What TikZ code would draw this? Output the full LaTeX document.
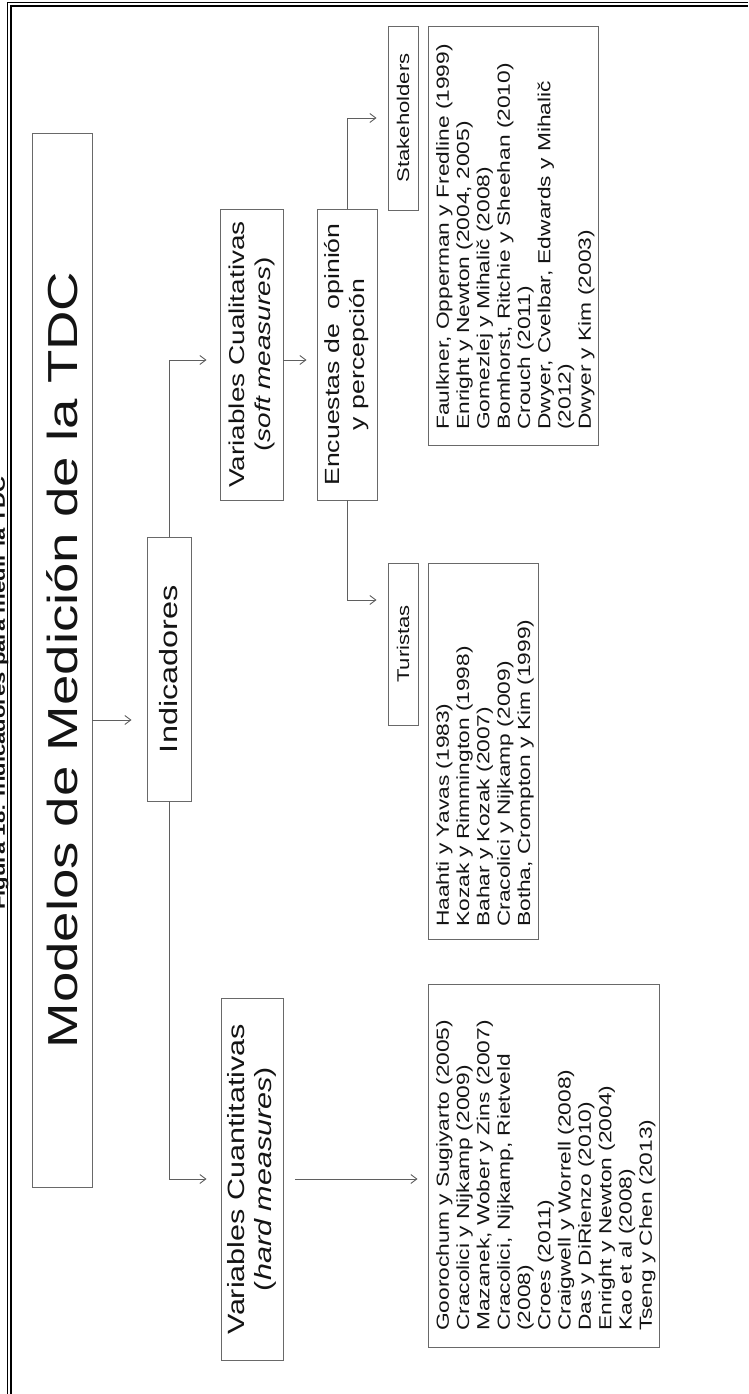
\documentclass[tikz,border=0pt]{standalone}
\usepackage{fontspec}
\setmainfont{Liberation Sans}[FakeStretch=1.3]
\usetikzlibrary{arrows.meta,calc}
\definecolor{boxgray}{RGB}{105,105,105}
\definecolor{linegray}{RGB}{95,95,95}
\definecolor{inkblack}{RGB}{20,20,20}

\begin{document}
\begin{tikzpicture}[x=1pt,y=-1pt,
  box/.style={draw=boxgray, line width=0.9pt, rotate=90, inner sep=0pt,
              align=center, text=inkblack},
  citebox/.style={draw=boxgray, line width=0.9pt, rotate=90, inner sep=0pt},
  citetext/.style={rotate=90, inner sep=0pt, align=left, anchor=north west,
                   text=inkblack, font=\fontsize{17.5}{20.3}\selectfont},
  arr/.style={draw=linegray, line width=0.9pt,
              -{Straight Barb[length=6pt,width=9pt]}},
  frame/.style={draw=black, line width=1.1pt},
]
\path[use as bounding box] (0,0) rectangle (748,1394);

% double frame along the top and left edges
\draw[frame] (7.5,1394) -- (7.5,2.5) -- (748,2.5);
\draw[frame] (11,1394) -- (11,6) -- (748,6);

% figure caption, running off the left edge
\begin{scope}
  \clip (0,0) rectangle (748,1394);
  \node[rotate=90, anchor=base west, inner sep=0pt, text=inkblack,
        font=\bfseries\fontsize{17}{20}\selectfont] (caption) at (5,910)
        {Figura 18: Indicadores para medir la TDC};
\end{scope}

% main boxes
\node[box, minimum width=1054pt, minimum height=60pt,
      font=\fontsize{42}{48}\selectfont] (title) at (62,660)
      {Modelos de Medición de la TDC};
\node[box, minimum width=264pt, minimum height=44pt,
      font=\fontsize{25}{29}\selectfont] (ind) at (169,669) {Indicadores};
\node[box, minimum width=291pt, minimum height=63pt,
      font=\fontsize{21.5}{26}\selectfont] (cual) at (251.5,354.5)
      {Variables Cualitativas\\(\textit{soft measures})};
\node[box, minimum width=362pt, minimum height=62pt,
      font=\fontsize{23.5}{27}\selectfont] (cuan) at (252,1179)
      {Variables Cuantitativas\\(\textit{hard measures})};
\node[box, minimum width=291pt, minimum height=60pt,
      font=\fontsize{20.5}{25}\selectfont] (enc) at (347,354.5)
      {Encuestas de~~opinión\\y percepción};
\node[box, minimum width=184pt, minimum height=30pt,
      font=\fontsize{17}{20}\selectfont] (stake) at (403,118) {Stakeholders};
\node[box, minimum width=162pt, minimum height=30pt,
      font=\fontsize{17}{20}\selectfont] (tur) at (403,644) {Turistas};

% reference lists
\node[citebox, minimum width=419pt, minimum height=170pt] (citS) at (513,235.5) {};
\node[citetext] (citStxt) at (436,430)
  {Faulkner, Opperman y Fredline (1999)\\
   Enright y Newton (2004, 2005)\\
   Gomezlej y Mihalič (2008)\\
   Bomhorst, Ritchie y Sheehan (2010)\\
   Crouch (2011)\\
   Dwyer, Cvelbar, Edwards y Mihalič\\
   (2012)\\
   Dwyer y Kim (2003)};

\node[citebox, minimum width=376pt, minimum height=110pt] (citT) at (483,751) {};
\node[citetext] (citTtxt) at (436,927)
  {Haahti y Yavas (1983)\\
   Kozak y Rimmington (1998)\\
   Bahar y Kozak (2007)\\
   Cracolici y Nijkamp (2009)\\
   Botha, Crompton y Kim (1999)};

\node[citebox, minimum width=363pt, minimum height=231pt] (citC) at (543.5,1165.5) {};
\node[citetext] (citCtxt) at (436,1331)
  {Goorochum y Sugiyarto (2005)\\
   Cracolici y Nijkamp (2009)\\
   Mazanek, Wober y Zins (2007)\\
   Cracolici, Nijkamp, Rietveld\\
   (2008)\\
   Croes (2011)\\
   Craigwell y Worrell (2008)\\
   Das y DiRienzo (2010)\\
   Enright y Newton (2004)\\
   Kao et al (2008)\\
   Tseng y Chen (2013)};

% connector rows
\coordinate (rowA) at (0,720);
\coordinate (rowB) at (0,360);
\coordinate (rowD) at (0,600);

% connectors
\draw[arr, shorten >=15pt] (title.south |- rowA) -- (ind.north |- rowA);
\draw[arr, shorten >=13pt] (ind.east) |- (cual.north |- rowB);
\draw[arr, shorten >=14pt] (ind.west) |- (cuan.north);
\draw[arr, shorten >=10pt] (cual.south |- rowB) -- (enc.north |- rowB);
\draw[arr, shorten >=11pt] (enc.east) |- (stake.north);
\draw[arr, shorten >=11pt] (enc.west) |- (tur.north |- rowD);
\draw[arr, shorten <=12pt, shorten >=10pt] (cuan.south) -- (citC.north |- cuan.south);
\end{tikzpicture}
\end{document}
